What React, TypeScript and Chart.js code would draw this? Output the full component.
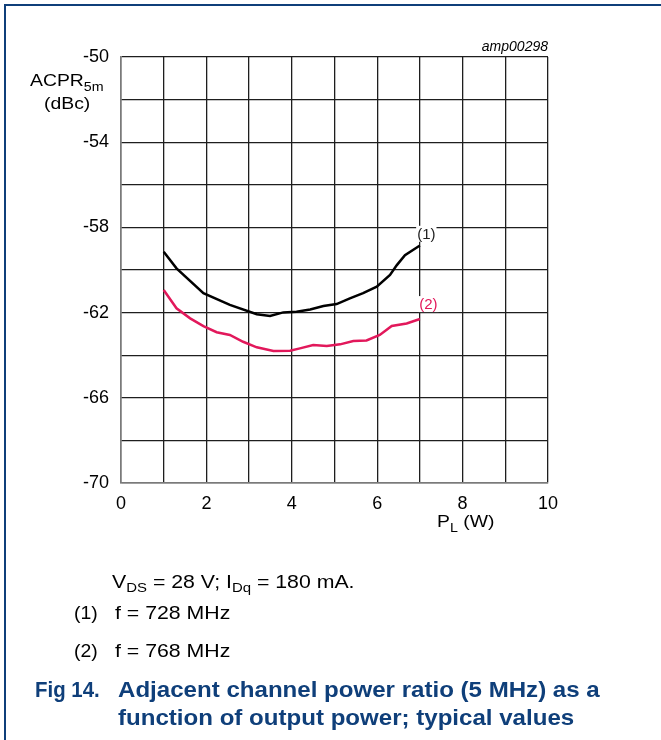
import React, { useEffect, useRef } from "react";
import { Chart, registerables } from "chart.js";

Chart.register(...registerables);

// Output power P_L (W)
const powerCurve1 = [1.0, 1.3, 1.93, 2.55, 3.18, 3.49, 3.8, 4.11, 4.43, 4.74, 5.05, 5.36, 5.67, 5.99, 6.3, 6.46, 6.65, 7.0];
// ACPR (dBc), f = 728 MHz
const acprCurve1 = [-59.14, -59.92, -61.09, -61.64, -62.08, -62.16, -61.99, -61.96, -61.85, -61.69, -61.6, -61.33, -61.09, -60.78, -60.23, -59.77, -59.3, -58.85];

const powerCurve2 = [1.0, 1.3, 1.62, 1.93, 2.24, 2.55, 2.86, 3.18, 3.57, 3.96, 4.19, 4.5, 4.82, 5.13, 5.44, 5.75, 6.06, 6.34, 6.69, 7.0];
// ACPR (dBc), f = 768 MHz
const acprCurve2 = [-60.94, -61.8, -62.27, -62.63, -62.92, -63.05, -63.37, -63.63, -63.8, -63.79, -63.68, -63.52, -63.57, -63.49, -63.33, -63.31, -63.05, -62.63, -62.51, -62.3];

const curveLabels = ["(1)", "(2)"];
const curveColors = ["#000000", "#e2185b"];

const xMin = 0, xMax = 10, xStep = 1, xLabelStep = 2;
const yMin = -70, yMax = -50, yStep = 2, yLabelStep = 4;

const FONT = "'Liberation Sans', Arial, sans-serif";
const BLUE = "#0f3f7a";
const STRETCH = 1.14;

function stretchedText(ctx: CanvasRenderingContext2D, text: string, x: number, y: number) {
  ctx.save();
  ctx.translate(x, y);
  ctx.scale(STRETCH, 1);
  ctx.fillText(text, 0, 0);
  ctx.restore();
  return ctx.measureText(text).width * STRETCH;
}

const annotationPlugin = {
  id: "annots",
  afterDraw(chart: any) {
    const { ctx, scales } = chart;
    const xs = scales.x, ys = scales.y;
    ctx.save();
    // curve labels with white background
    const labelPos = [
      { x: 7.15, y: -58.3 },
      { x: 7.2, y: -61.6 },
    ];
    ctx.font = `15px ${FONT}`;
    ctx.textBaseline = "middle";
    ctx.textAlign = "center";
    labelPos.forEach((p, i) => {
      const px = xs.getPixelForValue(p.x);
      const py = ys.getPixelForValue(p.y);
      const w = ctx.measureText(curveLabels[i]).width;
      ctx.fillStyle = "#ffffff";
      ctx.fillRect(px - w / 2 - 1, py - 8, w + 2, 16);
      ctx.fillStyle = i === 0 ? "#222" : curveColors[1];
      ctx.fillText(curveLabels[i], px, py + 1);
    });

    // y axis title
    ctx.fillStyle = "#000";
    ctx.textAlign = "left";
    ctx.textBaseline = "alphabetic";
    ctx.font = `17px ${FONT}`;
    const aw = stretchedText(ctx, "ACPR", 30, 86);
    ctx.font = `12.5px ${FONT}`;
    stretchedText(ctx, "5m", 30 + aw, 91);
    ctx.font = `17px ${FONT}`;
    stretchedText(ctx, "(dBc)", 44, 109);

    // x axis title
    const pX = 437, pY = 527;
    const pw = stretchedText(ctx, "P", pX, pY);
    ctx.font = `12.5px ${FONT}`;
    const lw = stretchedText(ctx, "L", pX + pw, pY + 5);
    ctx.font = `17px ${FONT}`;
    stretchedText(ctx, " (W)", pX + pw + lw, pY);

    // figure code
    ctx.font = `italic 14px ${FONT}`;
    ctx.textAlign = "right";
    ctx.fillText("amp00298", chart.chartArea.right, 51);
    ctx.restore();
  },
};

export default function App() {
  const ref = useRef<HTMLCanvasElement>(null);
  useEffect(() => {
    if (!ref.current) return;
    const chart = new Chart(ref.current, {
      type: "line",
      data: {
        datasets: [
          {
            label: curveLabels[0],
            data: powerCurve1.map((x, i) => ({ x, y: acprCurve1[i] })),
            borderColor: curveColors[0],
            borderWidth: 2.5,
            pointRadius: 0,
            tension: 0,
            fill: false,
          },
          {
            label: curveLabels[1],
            data: powerCurve2.map((x, i) => ({ x, y: acprCurve2[i] })),
            borderColor: curveColors[1],
            borderWidth: 2.5,
            pointRadius: 0,
            tension: 0,
            fill: false,
          },
        ],
      },
      options: {
        animation: false,
        responsive: false,
        events: [],
        layout: { padding: { left: 0, right: 113, top: 57, bottom: 217 } },
        plugins: { legend: { display: false }, tooltip: { enabled: false }, title: { display: false } },
        scales: {
          x: {
            type: "linear",
            min: xMin,
            max: xMax,
            afterFit: (s: any) => { s.height = 40; },
            ticks: {
              stepSize: xStep,
              color: "#000",
              font: { family: FONT, size: 18 },
              padding: 10,
              maxRotation: 0,
              autoSkip: false,
              callback: (v: any) => (Number(v) % xLabelStep === 0 ? String(v) : ""),
            },
            grid: { color: "#1e1e1e", lineWidth: 1.3, drawTicks: false },
            border: { color: "#7a7a7a", width: 1.5 },
          },
          y: {
            type: "linear",
            min: yMin,
            max: yMax,
            afterFit: (s: any) => { s.width = 121; },
            ticks: {
              stepSize: yStep,
              color: "#000",
              font: { family: FONT, size: 18 },
              padding: 12,
              autoSkip: false,
              callback: (v: any) => ((Number(v) - yMax) % yLabelStep === 0 ? String(v) : ""),
            },
            grid: { color: "#1e1e1e", lineWidth: 1.3, drawTicks: false },
            border: { color: "#7a7a7a", width: 1.5 },
          },
        },
      },
      plugins: [annotationPlugin],
    });
    return () => chart.destroy();
  }, []);

  const textStyle: React.CSSProperties = {
    position: "absolute",
    fontFamily: FONT,
    fontSize: 18.5,
    color: "#000",
    whiteSpace: "nowrap",
    lineHeight: "20px",
    transform: "scaleX(1.15)",
    transformOrigin: "0 0",
  };
  const numStyle: React.CSSProperties = { ...textStyle, transform: "scaleX(1.05)" };
  const subStyle: React.CSSProperties = { fontSize: 13, verticalAlign: -4, lineHeight: 0 };
  const titleStyle: React.CSSProperties = {
    ...textStyle,
    fontSize: 21.5,
    fontWeight: "bold",
    color: BLUE,
    lineHeight: "28px",
    transform: "scaleX(1.12)",
  };

  return (
    <div style={{ position: "absolute", left: 0, top: 0, width: 661, height: 740, background: "#fff", overflow: "hidden" }}>
      <div style={{ position: "absolute", left: 4, top: 4, width: 657, height: 736, borderTop: `2px solid ${BLUE}`, borderLeft: `2px solid ${BLUE}` }} />
      <canvas ref={ref} width={661} height={740} style={{ position: "absolute", left: 0, top: 0 }} />
      <div style={{ ...textStyle, left: 112, top: 572 }}>
        V<sub style={subStyle}>DS</sub> = 28 V; I<sub style={subStyle}>Dq</sub> = 180 mA.
      </div>
      <div style={{ ...numStyle, left: 74, top: 603 }}>(1)</div>
      <div style={{ ...textStyle, left: 115, top: 603 }}>f = 728 MHz</div>
      <div style={{ ...numStyle, left: 74, top: 641 }}>(2)</div>
      <div style={{ ...textStyle, left: 115, top: 641 }}>f = 768 MHz</div>
      <div style={{ ...titleStyle, left: 35, top: 676, transform: "scaleX(0.95)" }}>Fig 14.</div>
      <div style={{ ...titleStyle, left: 118, top: 676 }}>
        Adjacent channel power ratio (5 MHz) as a
        <br />
        function of output power; typical values
      </div>
    </div>
  );
}
